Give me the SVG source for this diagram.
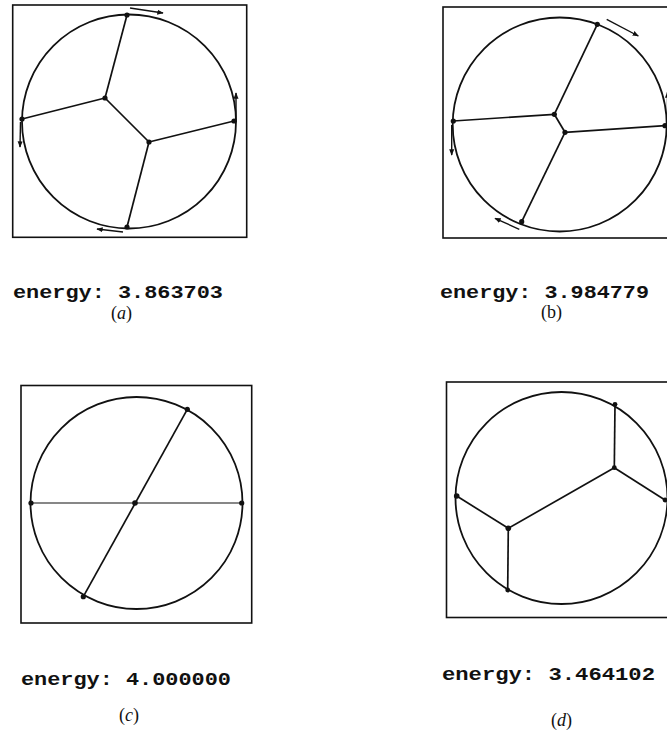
<svg xmlns="http://www.w3.org/2000/svg" width="667" height="731" viewBox="0 0 667 731">
<defs>
<marker id="ah" viewBox="0 0 10 10" refX="9" refY="5" markerWidth="4.5" markerHeight="4.5" markerUnits="strokeWidth" orient="auto">
<path d="M0,1 L10,5 L0,9 z" fill="#111"/>
</marker>
</defs>
<style>
.frame{fill:none;stroke:#111;stroke-width:1.6}
.circ{fill:none;stroke:#111;stroke-width:1.8}
.edge{stroke:#111;stroke-width:1.7;fill:none}
.thin{stroke:#111;stroke-width:1.1;fill:none}
.node{fill:#111}
.arr{stroke:#111;stroke-width:1.4;fill:none;marker-end:url(#ah)}
.en{font-family:"Liberation Mono","Courier New",monospace;font-weight:bold;font-size:17.5px;fill:#111}
.lab{font-family:"Liberation Serif","Times New Roman",serif;font-size:18px;fill:#111}
</style>
<rect width="667" height="731" fill="#fff"/>

<g id="panel-a">
<rect class="frame" x="12.7" y="5" width="234" height="232.3"/>
<circle class="circ" cx="129" cy="121.5" r="107"/>
<g id="connectors-a">
<line class="edge" x1="127" y1="15" x2="105" y2="98"/>
<line class="edge" x1="22" y1="119" x2="105" y2="98"/>
<line class="edge" x1="105" y1="98" x2="149" y2="142"/>
<line class="edge" x1="149" y1="142" x2="234" y2="121"/>
<line class="edge" x1="149" y1="142" x2="127" y2="227"/>
<line class="arr" x1="130" y1="8" x2="163" y2="13"/>
<line class="arr" x1="236" y1="122" x2="236" y2="93"/>
<line class="arr" x1="20.5" y1="122" x2="20" y2="147"/>
<line class="arr" x1="123" y1="232" x2="97" y2="229"/>
</g>
<g id="a-n1"><circle class="node" cx="127" cy="15" r="2.6"/></g>
<g id="a-n2"><circle class="node" cx="105" cy="98" r="2.6"/></g>
<g id="a-n3"><circle class="node" cx="22" cy="119" r="2.6"/></g>
<g id="a-n4"><circle class="node" cx="149" cy="142" r="2.6"/></g>
<g id="a-n5"><circle class="node" cx="234" cy="121" r="2.6"/></g>
<g id="a-n6"><circle class="node" cx="127" cy="227" r="2.6"/></g>
<text class="en" x="13" y="298" textLength="210" lengthAdjust="spacingAndGlyphs">energy: 3.863703</text>
<text class="lab" x="121.5" y="319" text-anchor="middle">(<tspan font-style="italic">a</tspan>)</text>
</g>

<g id="panel-b">
<rect class="frame" x="443" y="7" width="226" height="231"/>
<circle class="circ" cx="559.7" cy="124.5" r="107"/>
<g id="connectors-b">
<line class="edge" x1="597.3" y1="24.3" x2="554.3" y2="114.3"/>
<line class="edge" x1="453.3" y1="121" x2="554.3" y2="114.3"/>
<line class="edge" x1="554.3" y1="114.3" x2="565" y2="132.3"/>
<line class="edge" x1="565" y1="132.3" x2="665" y2="125.7"/>
<line class="edge" x1="565" y1="132.3" x2="521.7" y2="221.7"/>
<line class="arr" x1="606.7" y1="19.3" x2="638.3" y2="36"/>
<line class="arr" x1="451.7" y1="125" x2="451.7" y2="155"/>
<line class="arr" x1="519.3" y1="229.3" x2="495" y2="218.3"/>
<line class="arr" x1="667.5" y1="120" x2="667.5" y2="92"/>
</g>
<g id="b-n1"><circle class="node" cx="597.3" cy="24.3" r="2.6"/></g>
<g id="b-n2"><circle class="node" cx="554.3" cy="114.3" r="2.6"/></g>
<g id="b-n3"><circle class="node" cx="453.3" cy="121" r="2.6"/></g>
<g id="b-n4"><circle class="node" cx="565" cy="132.3" r="2.6"/></g>
<g id="b-n5"><circle class="node" cx="665" cy="125.7" r="2.6"/></g>
<g id="b-n6"><circle class="node" cx="521.7" cy="221.7" r="2.6"/></g>
<text class="en" x="440" y="298" textLength="209" lengthAdjust="spacingAndGlyphs">energy: 3.984779</text>
<text class="lab" x="551.5" y="318" text-anchor="middle">(b)</text>
</g>

<g id="panel-c">
<rect class="frame" x="21" y="385.5" width="230.7" height="237.5"/>
<circle class="circ" cx="136.5" cy="503" r="106"/>
<g id="connectors-c">
<line class="thin" x1="31" y1="503" x2="241.7" y2="503"/>
<line class="edge" x1="187.3" y1="409.3" x2="83.3" y2="596.7"/>
</g>
<g id="c-n1"><circle class="node" cx="31" cy="503" r="2.6"/></g>
<g id="c-n2"><circle class="node" cx="135" cy="503" r="2.8"/></g>
<g id="c-n3"><circle class="node" cx="241.7" cy="503" r="2.6"/></g>
<g id="c-n4"><circle class="node" cx="187.3" cy="409.3" r="2.6"/></g>
<g id="c-n5"><circle class="node" cx="83.3" cy="596.7" r="2.6"/></g>
<text class="en" x="21" y="685" textLength="210" lengthAdjust="spacingAndGlyphs">energy: 4.000000</text>
<text class="lab" x="129" y="721" text-anchor="middle">(<tspan font-style="italic">c</tspan>)</text>
</g>

<g id="panel-d">
<rect class="frame" x="446.5" y="382" width="222" height="235.5"/>
<circle class="circ" cx="561.5" cy="498" r="106"/>
<g id="connectors-d">
<line class="edge" x1="615" y1="404.3" x2="614.3" y2="467.7"/>
<line class="edge" x1="614.3" y1="467.7" x2="665" y2="500"/>
<line class="edge" x1="614.3" y1="467.7" x2="508.3" y2="528.3"/>
<line class="edge" x1="456.7" y1="496" x2="508.3" y2="528.3"/>
<line class="edge" x1="508.3" y1="528.3" x2="507.7" y2="590"/>
</g>
<g id="d-n1"><circle class="node" cx="615" cy="404.3" r="2.4"/></g>
<g id="d-n2"><circle class="node" cx="614.3" cy="467.7" r="2.4"/></g>
<g id="d-n3"><circle class="node" cx="665" cy="500" r="2.4"/></g>
<g id="d-n4"><circle class="node" cx="456.7" cy="496" r="2.8"/></g>
<g id="d-n5"><circle class="node" cx="508.3" cy="528.3" r="2.8"/></g>
<g id="d-n6"><circle class="node" cx="507.7" cy="590" r="2.4"/></g>
<text class="en" x="442" y="680" textLength="213" lengthAdjust="spacingAndGlyphs">energy: 3.464102</text>
<text class="lab" x="561.5" y="726" text-anchor="middle">(<tspan font-style="italic">d</tspan>)</text>
</g>
</svg>
